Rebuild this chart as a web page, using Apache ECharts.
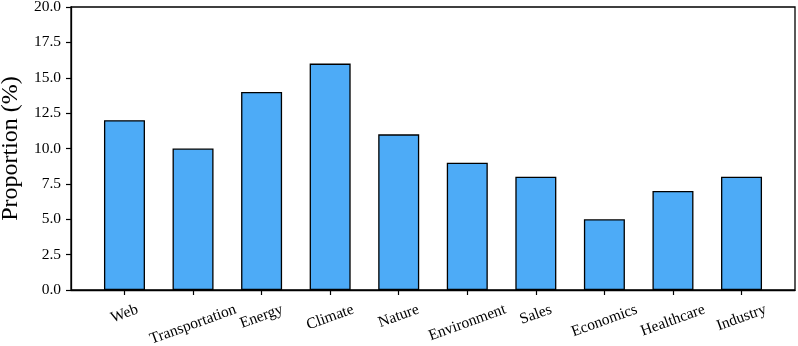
<!DOCTYPE html>
<html>
<head>
<meta charset="utf-8">
<script src="https://cdn.jsdelivr.net/npm/echarts@6/dist/echarts.min.js"></script>
<style>
  html, body { margin: 0; padding: 0; background: #fff; }
  #chart { width: 798px; height: 346px; }
</style>
</head>
<body>
<div id="chart"></div>
<script>
// Data
var categories = ['Web', 'Transportation', 'Energy', 'Climate', 'Nature', 'Environment', 'Sales', 'Economics', 'Healthcare', 'Industry'];
var proportions = [12, 10, 14, 16, 11, 9, 8, 5, 7, 8];
var yTicks = [0, 2.5, 5, 7.5, 10, 12.5, 15, 17.5, 20];

var FONT = '"Liberation Serif", "DejaVu Serif", serif';
var LABEL_SIZE = 15.5;
var ROT = 20 * Math.PI / 180;

// measure label widths so rotated labels hang like matplotlib (ha=center, va=top)
var ctx = document.createElement('canvas').getContext('2d');
ctx.font = LABEL_SIZE + 'px ' + FONT;
var rich = {};
categories.forEach(function (name, i) {
  var w = ctx.measureText(name).width;
  var h = 17;
  var d = (w * Math.sin(ROT) + h * Math.cos(ROT)) / 2;
  rich['l' + i] = {
    fontFamily: FONT,
    fontSize: LABEL_SIZE,
    color: '#000',
    padding: [2 * d * Math.cos(ROT), 2 * d * Math.sin(ROT), 0, 0]
  };
});

var chartDom = document.getElementById('chart');
var myChart = echarts.init(chartDom);
var option;

option = {
  animation: false,
  grid: {
    left: 71,
    right: 3,
    top: 7,
    bottom: 56,
    containLabel: false,
    outerBoundsMode: 'none',
    show: true,
    borderColor: '#000',
    borderWidth: 1.3,
    backgroundColor: 'transparent'
  },
  xAxis: {
    type: 'value',
    min: -0.78,
    max: 9.78,
    splitLine: { show: false },
    axisLine: { show: true, onZero: false, lineStyle: { color: '#000', width: 1.3 } },
    axisTick: {
      show: true,
      customValues: categories.map(function (c, i) { return i; }),
      length: 5,
      lineStyle: { color: '#000', width: 1.2 }
    },
    axisLabel: {
      customValues: categories.map(function (c, i) { return i; }),
      rotate: 20,
      align: 'center',
      verticalAlign: 'middle',
      margin: 11,
      formatter: function (v) {
        var i = Math.round(v);
        return '{l' + i + '|' + categories[i] + '}';
      },
      rich: rich
    }
  },
  yAxis: {
    type: 'value',
    min: 0,
    max: 20,
    interval: 2.5,
    name: 'Proportion (%)',
    nameLocation: 'middle',
    nameGap: 46,
    nameTextStyle: { fontFamily: FONT, fontSize: 24, color: '#000' },
    splitLine: { show: false },
    axisLine: { show: true, onZero: false, lineStyle: { color: '#000', width: 1.3 } },
    axisTick: { show: true, length: 5, lineStyle: { color: '#000', width: 1.2 } },
    axisLabel: {
      fontFamily: FONT,
      fontSize: LABEL_SIZE,
      color: '#000',
      margin: 10,
      customValues: yTicks,
      formatter: function (v) { return v.toFixed(1); }
    }
  },
  series: [
    {
      type: 'bar',
      data: proportions.map(function (v, i) { return [i, v]; }),
      barWidth: 41,
      itemStyle: {
        color: '#4dabf7',
        borderColor: '#000',
        borderWidth: 1.3
      }
    }
  ]
};

option && myChart.setOption(option);
</script>
</body>
</html>
